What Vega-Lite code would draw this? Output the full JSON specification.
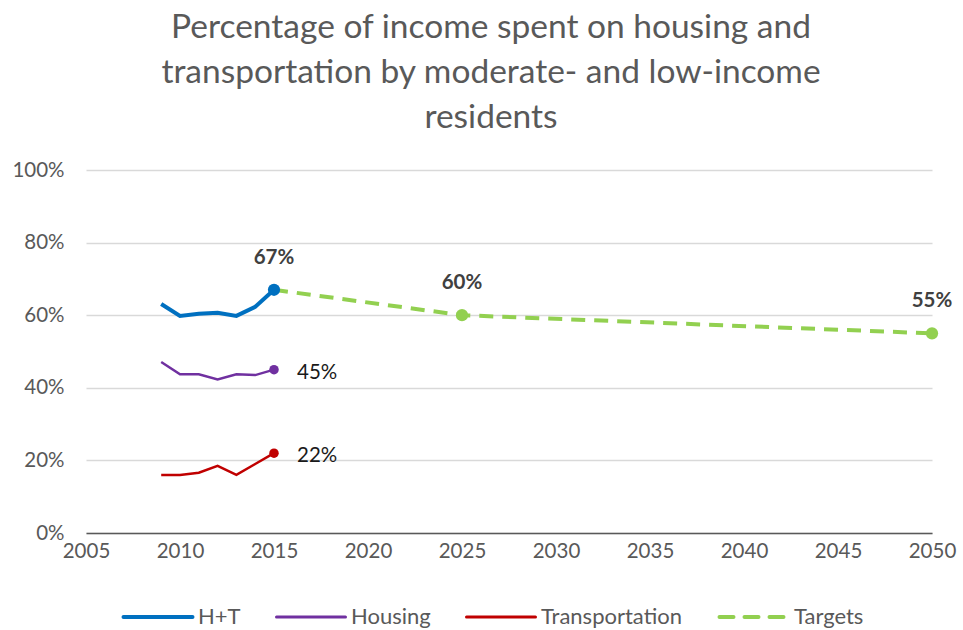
{
  "$schema": "https://vega.github.io/schema/vega-lite/v6.json",
  "autosize": "none",
  "width": 846,
  "height": 363,
  "padding": {"left": 86, "top": 170, "right": 31, "bottom": 97},
  "background": "white",
  "config": {"view": {"stroke": null}, "font": "Lato"},
  "title": {
    "text": ["Percentage of income spent on housing and", "transportation by moderate- and low-income", "residents"],
    "fontSize": 33.5,
    "font": "Lato",
    "fontWeight": "normal",
    "color": "#595959",
    "lineHeight": 45,
    "anchor": "middle",
    "dx": -18,
    "offset": 25
  },
  "datasets": {
    "lines": [
      {"series": "H+T", "year": 2009, "value": 0.631},
      {"series": "H+T", "year": 2010, "value": 0.598},
      {"series": "H+T", "year": 2011, "value": 0.604},
      {"series": "H+T", "year": 2012, "value": 0.607},
      {"series": "H+T", "year": 2013, "value": 0.598},
      {"series": "H+T", "year": 2014, "value": 0.623},
      {"series": "H+T", "year": 2015, "value": 0.67},
      {"series": "Housing", "year": 2009, "value": 0.471},
      {"series": "Housing", "year": 2010, "value": 0.437},
      {"series": "Housing", "year": 2011, "value": 0.437},
      {"series": "Housing", "year": 2012, "value": 0.423},
      {"series": "Housing", "year": 2013, "value": 0.437},
      {"series": "Housing", "year": 2014, "value": 0.435},
      {"series": "Housing", "year": 2015, "value": 0.45},
      {"series": "Transportation", "year": 2009, "value": 0.16},
      {"series": "Transportation", "year": 2010, "value": 0.16},
      {"series": "Transportation", "year": 2011, "value": 0.166},
      {"series": "Transportation", "year": 2012, "value": 0.185},
      {"series": "Transportation", "year": 2013, "value": 0.16},
      {"series": "Transportation", "year": 2014, "value": 0.19},
      {"series": "Transportation", "year": 2015, "value": 0.22},
      {"series": "Targets", "year": 2015, "value": 0.67},
      {"series": "Targets", "year": 2025, "value": 0.6},
      {"series": "Targets", "year": 2050, "value": 0.55}
    ],
    "points": [
      {"series": "H+T", "year": 2015, "value": 0.67},
      {"series": "Housing", "year": 2015, "value": 0.45},
      {"series": "Transportation", "year": 2015, "value": 0.22},
      {"series": "Targets", "year": 2025, "value": 0.6},
      {"series": "Targets", "year": 2050, "value": 0.55}
    ],
    "labelsAbove": [
      {"year": 2015, "value": 0.67, "label": "67%"},
      {"year": 2025, "value": 0.6, "label": "60%"},
      {"year": 2050, "value": 0.55, "label": "55%"}
    ],
    "labelsRight": [
      {"year": 2015, "value": 0.45, "label": "45%"},
      {"year": 2015, "value": 0.22, "label": "22%"}
    ]
  },
  "encoding": {
    "x": {
      "field": "year", "type": "quantitative",
      "scale": {"domain": [2005, 2050], "nice": false, "zero": false},
      "axis": {
        "title": null, "values": [2005, 2010, 2015, 2020, 2025, 2030, 2035, 2040, 2045, 2050],
        "format": "d", "grid": false, "ticks": false,
        "domainColor": "#595959", "domainWidth": 1.5,
        "labelFont": "Lato", "labelFontSize": 20.5, "labelColor": "#595959",
        "labelPadding": 8, "labelFlush": false
      }
    },
    "y": {
      "field": "value", "type": "quantitative",
      "scale": {"domain": [0, 1], "nice": false},
      "axis": {
        "title": null, "values": [0, 0.2, 0.4, 0.6, 0.8, 1], "format": ".0%",
        "domain": false, "ticks": false, "gridColor": "#d9d9d9", "gridWidth": 1.3,
        "labelFont": "Lato", "labelFontSize": 20.5, "labelColor": "#595959",
        "labelPadding": 22
      }
    }
  },
  "layer": [
    {
      "data": {"name": "lines"},
      "transform": [{"filter": {"field": "series", "equal": "Targets"}}],
      "mark": {"type": "line", "strokeCap": "butt", "strokeWidth": 4, "strokeDash": [14, 9]},
      "encoding": {
        "color": {
          "field": "series", "type": "nominal",
          "scale": {"domain": ["H+T", "Housing", "Transportation", "Targets"], "range": ["#0070C0", "#7030A0", "#C00000", "#92D050"]},
          "legend": {
            "title": null, "orient": "none", "direction": "horizontal",
            "legendX": 61, "legendY": 436,
            "symbolType": "stroke", "symbolSize": 4761,
            "labelFont": "Lato", "labelFontSize": 22, "labelColor": "#595959",
            "labelOffset": 29, "columnPadding": 29,
            "encode": {
              "symbols": {
                "update": {
                  "strokeWidth": {"signal": "datum.label === 'H+T' || datum.label === 'Targets' ? 4 : 3"},
                  "strokeDash": {"signal": "datum.label === 'Targets' ? [14, 11] : [1, 0]"},
                  "strokeCap": {"value": "round"}
                }
              }
            }
          }
        }
      }
    },
    {
      "data": {"name": "lines"},
      "transform": [{"filter": {"field": "series", "oneOf": ["Housing", "Transportation"]}}],
      "mark": {"type": "line", "strokeWidth": 2.5},
      "encoding": {
        "color": {"field": "series", "type": "nominal"}
      }
    },
    {
      "data": {"name": "lines"},
      "transform": [{"filter": {"field": "series", "equal": "H+T"}}],
      "mark": {"type": "line", "strokeWidth": 4},
      "encoding": {
        "color": {"field": "series", "type": "nominal"}
      }
    },
    {
      "data": {"name": "points"},
      "transform": [{"filter": {"field": "series", "oneOf": ["H+T", "Targets"]}}],
      "mark": {"type": "circle", "opacity": 1, "size": 150},
      "encoding": {
        "color": {"field": "series", "type": "nominal"}
      }
    },
    {
      "data": {"name": "points"},
      "transform": [{"filter": {"field": "series", "oneOf": ["Housing", "Transportation"]}}],
      "mark": {"type": "circle", "opacity": 1, "size": 90},
      "encoding": {
        "color": {"field": "series", "type": "nominal"}
      }
    },
    {
      "data": {"name": "labelsAbove"},
      "mark": {"type": "text", "font": "Lato", "fontSize": 20.5, "fontWeight": "bold", "color": "#404040", "dy": -32, "baseline": "middle"},
      "encoding": {
        "text": {"field": "label"}
      }
    },
    {
      "data": {"name": "labelsRight"},
      "mark": {"type": "text", "font": "Lato", "fontSize": 20.5, "color": "#1a1a1a", "dx": 23, "dy": 3, "align": "left", "baseline": "middle"},
      "encoding": {
        "text": {"field": "label"}
      }
    }
  ]
}
